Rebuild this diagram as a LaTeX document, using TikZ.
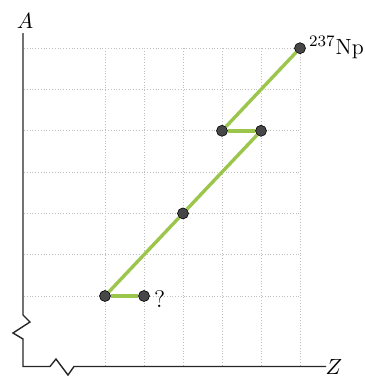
\documentclass[tikz,border=0pt]{standalone}
\definecolor{decaygreen}{RGB}{155,198,75}
\begin{document}
\begin{tikzpicture}[x=0.5pt,y=-0.5pt,
  gridline/.style={black!25, densely dotted, line width=0.4pt},
  axis/.style={black!85, line width=0.7pt, line join=miter},
  decay/.style={decaygreen, line width=1.7pt},
  nuclide/.style={circle, draw=black, line width=0.3pt, fill=black!72,
    inner sep=0pt, minimum size=5.5pt},
  tag/.style={font=\fontsize{11}{13}\selectfont, inner sep=0pt}]
\useasboundingbox (0,0) rectangle (365,376);

% grid
\foreach \j in {0,...,6}
  \draw[gridline] (24,{296-41.3*\j}) -- (300,{296-41.3*\j});
\foreach \i in {0,...,5}
  \draw[gridline] ({105+39*\i},48.2) -- ({105+39*\i},366);

% axes with breaks
\draw[axis] (23,33) -- (23,315) -- (30,322) -- (13,333) -- (23,339)
  -- (23,366.5) -- (50,366.5) -- (56,359) -- (68,375) -- (74,366.5)
  -- (326,366.5);
\node[tag] (alabel) at (25,21) {$A$};
\node[tag] (zlabel) at (334,367) {$Z$};

% decay chain
\node[nuclide] (np) at (300,48.2) {};
\node[nuclide] (pa) at (222,130.8) {};
\node[nuclide] (u) at (261,130.8) {};
\node[nuclide] (th) at (183,213.4) {};
\node[nuclide] (ra) at (105,296) {};
\node[nuclide] (ac) at (144,296) {};

\draw[decay] (np) -- (pa);
\draw[decay] (pa) -- (u);
\draw[decay] (u) -- (th);
\draw[decay] (th) -- (ra);
\draw[decay] (ra) -- (ac);

\node[tag, anchor=base west] (nplabel)
  at ([xshift=1.5pt,yshift=-3pt]np.east) {$^{237}$Np};
\node[tag, anchor=base west, font=\large] (unknown)
  at ([xshift=2pt,yshift=-5.5pt]ac.east) {?};
\end{tikzpicture}
\end{document}
